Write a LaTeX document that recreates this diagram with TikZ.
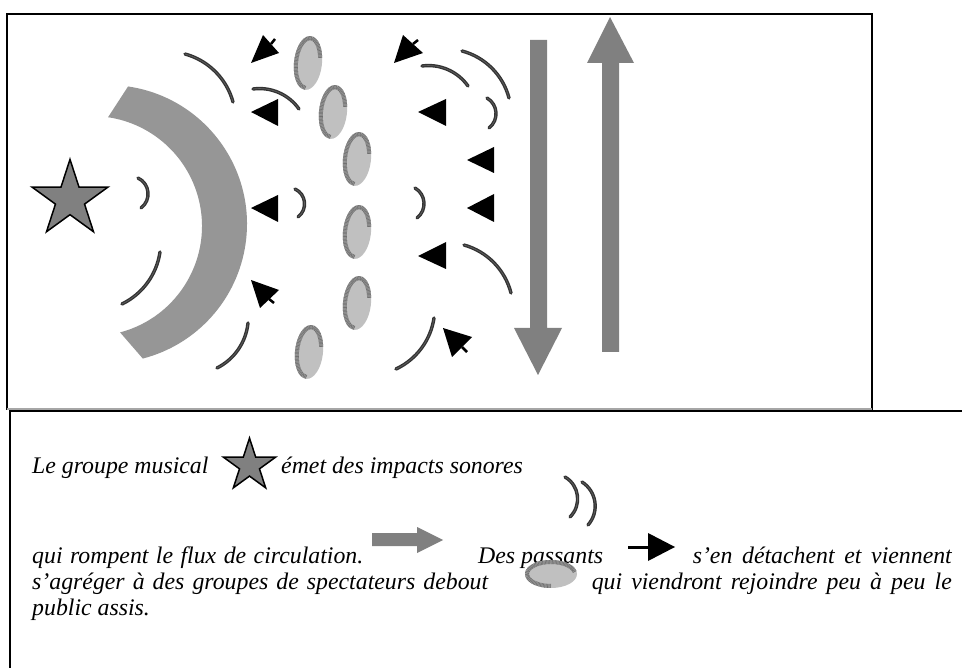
\documentclass[tikz,border=0pt]{standalone}
\usepackage{fontspec}
\setmainfont{Liberation Serif}
\usetikzlibrary{shapes.geometric}
\definecolor{bandgrey}{HTML}{969696}
\definecolor{flowgrey}{HTML}{808080}
\definecolor{ovalgrey}{HTML}{C0C0C0}
\definecolor{ringgrey}{HTML}{9C9C9C}
\definecolor{ringdark}{HTML}{707070}
\definecolor{wavedark}{HTML}{333333}
\definecolor{wavecore}{HTML}{606060}
\tikzset{
  wave/.style={draw=wavedark, line width=3.4pt, line cap=round},
  wavein/.style={draw=wavecore, line width=0.7pt, line cap=round},
  legtext/.style={font=\fontsize{23.8}{28}\selectfont\itshape, inner sep=0pt, anchor=base west},
  starshape/.style={star, star points=5, star point ratio=2.618, inner sep=0pt, draw=black, fill=flowgrey, line width=1.5pt},
  ringbase/.style={draw=ringgrey, line width=4pt},
  ringhatch/.style={draw=ringdark, line width=4pt, dash pattern=on 0.6pt off 0.8pt},
  spect/.pic={
    \fill[ovalgrey] (0,0) ellipse[x radius=14, y radius=27];
    \draw[ringbase] (-15:12 and 25) arc[start angle=-15, end angle=-270, x radius=12, y radius=25];
    \draw[ringhatch] (-15:12 and 25) arc[start angle=-15, end angle=-270, x radius=12, y radius=25];
  }
}
% circular-looking arc from (#1,#2) to (#3,#4) with sagitta #5 (signed)
\newcommand\wavearc[5]{%
  \pgfmathsetmacro\wdx{#3-#1}\pgfmathsetmacro\wdy{#4-#2}%
  \pgfmathsetmacro\wlen{veclen(\wdx,\wdy)}%
  \pgfmathsetmacro\wux{\wdx/\wlen}\pgfmathsetmacro\wuy{\wdy/\wlen}%
  \pgfmathsetmacro\wphi{2*atan(abs(#5)/(\wlen/2))}%
  \pgfmathsetmacro\wk{4*(#5)/3}%
  \pgfmathsetmacro\wka{abs(\wk)*cot(\wphi)}%
  \pgfmathsetmacro\wnx{-\wuy}\pgfmathsetmacro\wny{\wux}%
  \pgfmathsetmacro\wax{#1+\wka*\wux+\wk*\wnx}\pgfmathsetmacro\way{#2+\wka*\wuy+\wk*\wny}%
  \pgfmathsetmacro\wbx{#3-\wka*\wux+\wk*\wnx}\pgfmathsetmacro\wby{#4-\wka*\wuy+\wk*\wny}%
  \draw[wave] (#1,#2) .. controls (\wax,\way) and (\wbx,\wby) .. (#3,#4);
  \draw[wavein] (#1,#2) .. controls (\wax,\way) and (\wbx,\wby) .. (#3,#4);}
\begin{document}
\begin{tikzpicture}[x=1pt,y=-1pt]
\useasboundingbox (0,0) rectangle (962,668);
\fill[white] (0,0) rectangle (962,668);
% frames
\draw[black, line width=1.8pt] (7,410) -- (7,14) -- (872,14) -- (872,410);
\draw[gray!70, line width=1.5pt] (7,409) -- (872,409);
\draw[black, line width=2pt] (10,668) -- (10,411.5) -- (962,411.5);
% band
\fill[bandgrey] (108,224) ++(-81.7:139) arc[start angle=-81.7, end angle=75.5, radius=139]
  -- (120.1,332.4) arc[start angle=75.2, end angle=-81.6, radius=110] -- cycle;
% star
\node[starshape, minimum size=80pt] (musique) at (70,199.4) {};
% waves
\wavearc{138}{178}{141}{208}{-8.5}
\wavearc{160}{252}{122}{304}{-8}
\wavearc{185}{54}{233}{102}{-9}
\wavearc{253}{89}{299}{109}{-7}
\wavearc{295}{189}{298}{217}{-8}
\wavearc{248}{323}{217}{368}{-7}
\wavearc{415}{188}{417}{218}{-8}
\wavearc{422}{66}{468}{86}{-7}
\wavearc{462}{51}{509}{98}{-9}
\wavearc{487}{98}{489}{128}{-8}
\wavearc{464}{245}{511}{293}{-9}
\wavearc{434}{318}{396}{369}{-8}
% left-pointing triangles
\fill[black] (251,112) -- (278,99) -- (278,126) -- cycle;
\fill[black] (251,208) -- (278,195) -- (278,222) -- cycle;
\fill[black] (418,112) -- (446,99) -- (446,126) -- cycle;
\fill[black] (467,160) -- (494,147) -- (494,173) -- cycle;
\fill[black] (467,208) -- (494,194) -- (494,222) -- cycle;
\fill[black] (418,256) -- (446,242) -- (446,269) -- cycle;
% diagonal passers-by
\fill[black] (251,63) -- (263,35) -- (279,53) -- cycle;
\draw[black, line width=2.5pt] (271,44) -- (275,39);
\fill[black] (394,63) -- (403,35) -- (423,53) -- cycle;
\draw[black, line width=2.5pt] (413,44) -- (418,40);
\fill[black] (251,280) -- (260,308) -- (279,290) -- cycle;
\draw[black, line width=2.5pt] (269,299) -- (274,303);
\fill[black] (443,328) -- (452,357) -- (472,337) -- cycle;
\draw[black, line width=2.5pt] (462,347) -- (467,352);
% spectators
\pic[rotate=-6] (o1) at (308,63) {spect};
\pic[rotate=-6] (o2) at (333,112) {spect};
\pic[rotate=-6] (o3) at (357,159) {spect};
\pic[rotate=-6] (o4) at (357,232) {spect};
\pic[rotate=-6] (o5) at (357,303) {spect};
\pic[rotate=-6] (o6) at (309,352) {spect};
% flow arrows
\fill[flowgrey] (530,40) -- (547,40) -- (547,328) -- (562,328) -- (538,375) -- (514,328) -- (530,328) -- cycle;
\fill[flowgrey] (602,352) -- (619,352) -- (619,63) -- (634,63) -- (610,17) -- (587,63) -- (602,63) -- cycle;
% legend
\node[legtext] (t1a) at (32,473) {Le groupe musical};
\node[starshape, minimum size=55pt] (legstar) at (249.5,465.6) {};
\node[legtext] (t1b) at (281,473) {émet des impacts sonores};
\wavearc{565}{477}{570}{517}{-10}
\wavearc{582}{482}{588}{525}{-10}
\node[legtext] (t2a) at (32,563) {\makebox[331pt][s]{qui rompent le flux de circulation.}};
\fill[flowgrey] (372,533) -- (417,533) -- (417,527) -- (443,540) -- (417,553) -- (417,546) -- (372,546) -- cycle;
\node[legtext] (t2b) at (478,563) {Des passants};
\fill[black] (675,547) -- (648,533) -- (648,561) -- cycle;
\draw[black, line width=3pt] (628,547) -- (650,547);
\node[legtext, anchor=base east] (t2c) at (952,563) {\makebox[259pt][s]{s’en détachent et viennent}};
\node[legtext] (t3a) at (32,589) {\makebox[456pt][s]{s’agréger à des groupes de spectateurs debout}};
\fill[ovalgrey] (551,574) ellipse[x radius=26, y radius=14];
\draw[ringbase] (551,574) ++(-10:24 and 12) arc[start angle=-10, end angle=-270, x radius=24, y radius=12];
\draw[ringhatch] (551,574) ++(-10:24 and 12) arc[start angle=-10, end angle=-270, x radius=24, y radius=12];
\node[legtext, anchor=base east] (t3b) at (952,589) {\makebox[360pt][s]{qui viendront rejoindre peu à peu le}};
\node[legtext] (t4) at (32,615) {public assis.};
\end{tikzpicture}
\end{document}
